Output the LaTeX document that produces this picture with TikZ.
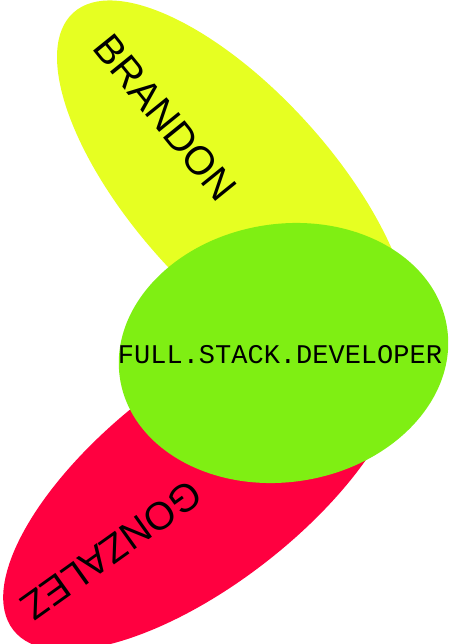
\documentclass[tikz,border=0pt]{standalone}
\usepackage{fontspec}
\setsansfont{Liberation Sans}
\setmonofont{Liberation Mono}
\usetikzlibrary{shapes.geometric}
\definecolor{lemon}{HTML}{E6FF22}
\definecolor{leaf}{HTML}{7FEF13}
\definecolor{rose}{HTML}{FF0040}
\begin{document}
\begin{tikzpicture}[x=1pt, y=-1pt,
        blob/.style={ellipse, inner sep=0pt, outer sep=0pt},
        tag/.style={font=\sffamily\fontsize{40}{40}\selectfont, inner sep=0pt}]
    \useasboundingbox (0,0) rectangle (449,644);
    % the three blobs, green one on top
    \node[blob, fill=lemon, minimum width=480pt, minimum height=200pt, rotate=-48] (brandonblob) at (234,191) {};
    \node[blob, fill=rose, minimum width=484pt, minimum height=204pt, rotate=38] (gonzalezblob) at (204,481) {};
    \node[blob, fill=leaf, minimum width=331pt, minimum height=258pt, rotate=9] (stackblob) at (283.5,353) {};
    % names
    \node[tag, rotate=-51] (brandon) at (165,118) {BRANDON};
    \node[tag, rotate=215.5, font=\sffamily\fontsize{39}{39}\selectfont] (gonzalez) at (111.5,550.5) {GONZALEZ};
    \node[inner sep=0pt, font=\ttfamily\fontsize{27}{27}\selectfont] (stack) at (280,355) {FULL.STACK.DEVELOPER};
\end{tikzpicture}
\end{document}
